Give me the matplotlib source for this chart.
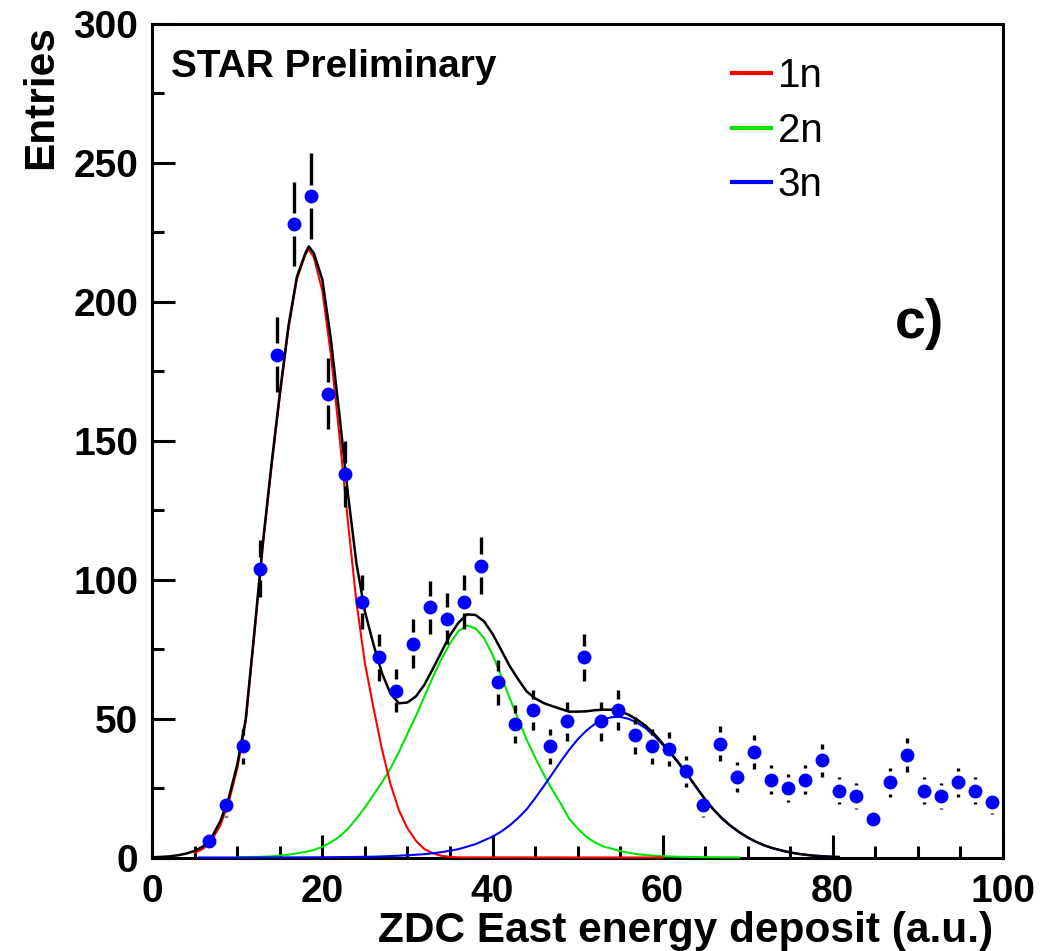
import numpy as np
import matplotlib
matplotlib.use('Agg')
import matplotlib.pyplot as plt
from matplotlib.lines import Line2D
from matplotlib.ticker import MultipleLocator

# histogram points (bin centres, entries)
bin_x = [6.7, 8.7, 10.7, 12.7, 14.7, 16.7, 18.7, 20.7, 22.7, 24.7, 26.7, 28.7,
         30.7, 32.7, 34.7, 36.7, 38.7, 40.7, 42.7, 44.7, 46.7, 48.7, 50.7, 52.7,
         54.7, 56.7, 58.7, 60.7, 62.7, 64.7, 66.7, 68.7, 70.7, 72.7, 74.7, 76.7,
         78.7, 80.7, 82.7, 84.7, 86.7, 88.7, 90.7, 92.7, 94.7, 96.7, 98.7]
entries = [6, 19, 40, 104, 181, 228, 238, 167, 138, 92, 72, 60,
           77, 90, 86, 92, 105, 63, 48, 53, 40, 49, 72, 49,
           53, 44, 40, 39, 31, 19, 41, 29, 38, 28, 25, 28,
           35, 24, 22, 14, 27, 37, 24, 22, 27, 24, 20]

# fit curves
red_x = [5, 6, 7, 8, 9, 10, 11, 12, 13, 14, 15, 16, 17, 18, 18.4, 19, 20, 21,
         22, 23, 24, 25, 26, 27, 28, 29, 30, 31, 32, 33, 34, 35, 36, 60]
red_y = [1.6, 3.2, 6.3, 11.5, 20, 32, 49, 80, 112, 140, 166, 190, 208, 217,
         219, 216, 204, 181, 152, 121, 92, 70, 54, 39, 26.5, 17, 10.5, 6, 3,
         1.5, 0.6, 0.2, 0.05, 0]

green_x = [10, 12, 14, 16, 18, 19, 20, 21, 22, 23, 24, 25, 26, 27, 28, 29, 30,
           31, 32, 33, 34, 35, 36, 37, 38, 39, 40, 41, 42, 43, 44, 45, 46, 47,
           48, 49, 50, 51, 52, 53, 54, 55, 56, 57, 58, 59, 60, 62, 64, 66, 69]
green_y = [0.1, 0.2, 0.4, 1, 2, 2.7, 3.8, 5.5, 7.5, 10.3, 14, 18, 22.5, 27, 32,
           38, 44.5, 51, 58, 65, 71.5, 77, 81.5, 83.5, 82.5, 79, 73, 65.5, 57.5,
           50, 42.5, 36, 30, 24.5, 19.5, 14, 10.5, 7.5, 5.5, 4, 3.2, 2.3, 1.7,
           1.2, 0.9, 0.65, 0.45, 0.25, 0.15, 0.08, 0.04]

blue_x = [5.5, 10, 15, 20, 24, 26, 28, 30, 32, 34, 36, 38, 40, 41, 42, 43, 44,
          45, 46, 47, 48, 49, 50, 51, 52, 53, 54, 55, 56, 57, 58, 59, 60, 61,
          62, 63, 64, 65, 66, 67, 68, 69, 70, 71, 72, 73, 74, 75, 76, 77, 78,
          79, 80]
blue_y = [0, 0, 0.02, 0.08, 0.2, 0.3, 0.5, 0.8, 1.2, 1.9, 3, 4.8, 7.5, 9.3,
          11.5, 14.2, 17.3, 21.3, 25.6, 30, 34.5, 38.7, 42.5, 45.6, 48, 49.7,
          50.5, 50.6, 49.9, 48.5, 46.5, 43.8, 40.6, 37.2, 33.4, 29.3, 25, 20.8,
          17.1, 13.9, 11.3, 9.1, 7.2, 5.6, 4.3, 3.3, 2.5, 1.8, 1.3, 0.9, 0.6,
          0.4, 0.25]

tot_x = list(range(0, 19)) + [18.4] + list(range(19, 81)) + [80.7]
tot_x = sorted(tot_x)
tot_y = [0.1, 0.2, 0.4, 0.8, 1.4, 2.4, 4, 7.3, 13, 21.5, 33.5, 50, 81, 113, 141,
         167, 191, 209, 217.5, 220, 217.5, 208, 186.5, 159.5, 131, 106, 88.5,
         76.8, 66.4, 59, 55.5, 55.8, 58, 62.2, 68, 74, 80, 84.5, 87.5, 87.3, 85,
         80.5, 74.8, 69, 64.2, 59.8, 57.3, 55.6, 54.5, 53.5, 52.5, 52.5, 52.6,
         53, 53.2, 53.2, 52.6, 51.4, 49.6, 47.4, 44.5, 41, 37.5, 33.6, 29.5,
         25.1, 20.9, 17.2, 14, 11.4, 9.1, 7.2, 5.6, 4.3, 3.3, 2.5, 1.8, 1.3, 0.9,
         0.6, 0.4, 0.25, 0.2]

labels = ['1n', '2n', '3n']
colours = ['#ff0000', '#00e600', '#0000ff']

W, H = 1044, 951
fig = plt.figure(figsize=(W / 100, H / 100), dpi=100)
x0, x1, y0, y1 = 152.2, 1003, 857.5, 24
ax = fig.add_axes([x0 / W, 1 - y0 / H, (x1 - x0) / W, (y0 - y1) / H])
ax.set_xlim(0, 100)
ax.set_ylim(0, 300)

bold = dict(family='Liberation Sans', weight='bold')

ax.plot(green_x, green_y, color=colours[1], lw=1.5, zorder=3, clip_on=False)
ax.plot(red_x, red_y, color=colours[0], lw=1.5, zorder=3.1, clip_on=False)
ax.plot(blue_x, blue_y, color=colours[2], lw=1.5, zorder=3.2, clip_on=False)
ax.plot(tot_x, tot_y, color='black', lw=1.8, zorder=3.3, clip_on=False)

# poisson error bars with a gap around the marker
y = np.array(entries, dtype=float)
err = np.sqrt(y)
gap = 11.5 * 300 / (y0 - y1)
show = err > gap
ax.vlines(np.array(bin_x)[show], (y + gap)[show], (y + err)[show],
          color='black', lw=2.4, zorder=4)
ax.vlines(np.array(bin_x)[show], (y - err)[show], (y - gap)[show],
          color='black', lw=2.4, zorder=4)
ax.plot(bin_x, entries, 'o', color='#0000ff', ms=10, mec='none', zorder=5)

ax.xaxis.set_major_locator(MultipleLocator(20))
ax.xaxis.set_minor_locator(MultipleLocator(5))
ax.yaxis.set_major_locator(MultipleLocator(50))
ax.yaxis.set_minor_locator(MultipleLocator(25))
ax.tick_params(which='both', direction='in', width=2.2, top=False, right=False)
ax.tick_params(which='major', length=16.5)
ax.tick_params(which='minor', length=8.6)
ax.tick_params(axis='x', pad=12)
ax.tick_params(axis='y', pad=10)
for lab in ax.get_xticklabels() + ax.get_yticklabels():
    lab.set_fontfamily('Liberation Sans')
    lab.set_fontweight('bold')
    lab.set_fontsize(28)
for s in ax.spines.values():
    s.set_linewidth(2.2)

fig.text(993 / W, 1 - 942 / H, 'ZDC East energy deposit (a.u.)', ha='right',
         va='baseline', fontsize=30.5, **bold)
fig.text(51.7 / W, 1 - 25 / H, 'Entries', ha='right', va='baseline',
         rotation=90, rotation_mode='anchor', fontsize=30.5, **bold)
fig.text(171 / W, 1 - 77 / H, 'STAR Preliminary', ha='left', va='baseline',
         fontsize=28, **bold)
fig.text(895 / W, 1 - 338 / H, 'c)', ha='left', va='baseline', fontsize=40,
         **bold)
# clipped label of the neighbouring panel
fig.text(5 / W, 1 - 225 / H, 's', ha='right', va='center', rotation=90,
         color='#0000ff', fontsize=30, **bold)

handles = [Line2D([], [], color=c, lw=3) for c in colours]
ax.legend(handles, labels, loc='upper left', bbox_to_anchor=(0.681, 0.96),
          frameon=False, borderpad=0, borderaxespad=0, handlelength=0.97,
          handletextpad=0.18, labelspacing=0.41,
          prop=dict(family='Liberation Sans', size=29))

fig.savefig('out.png', dpi=100)
